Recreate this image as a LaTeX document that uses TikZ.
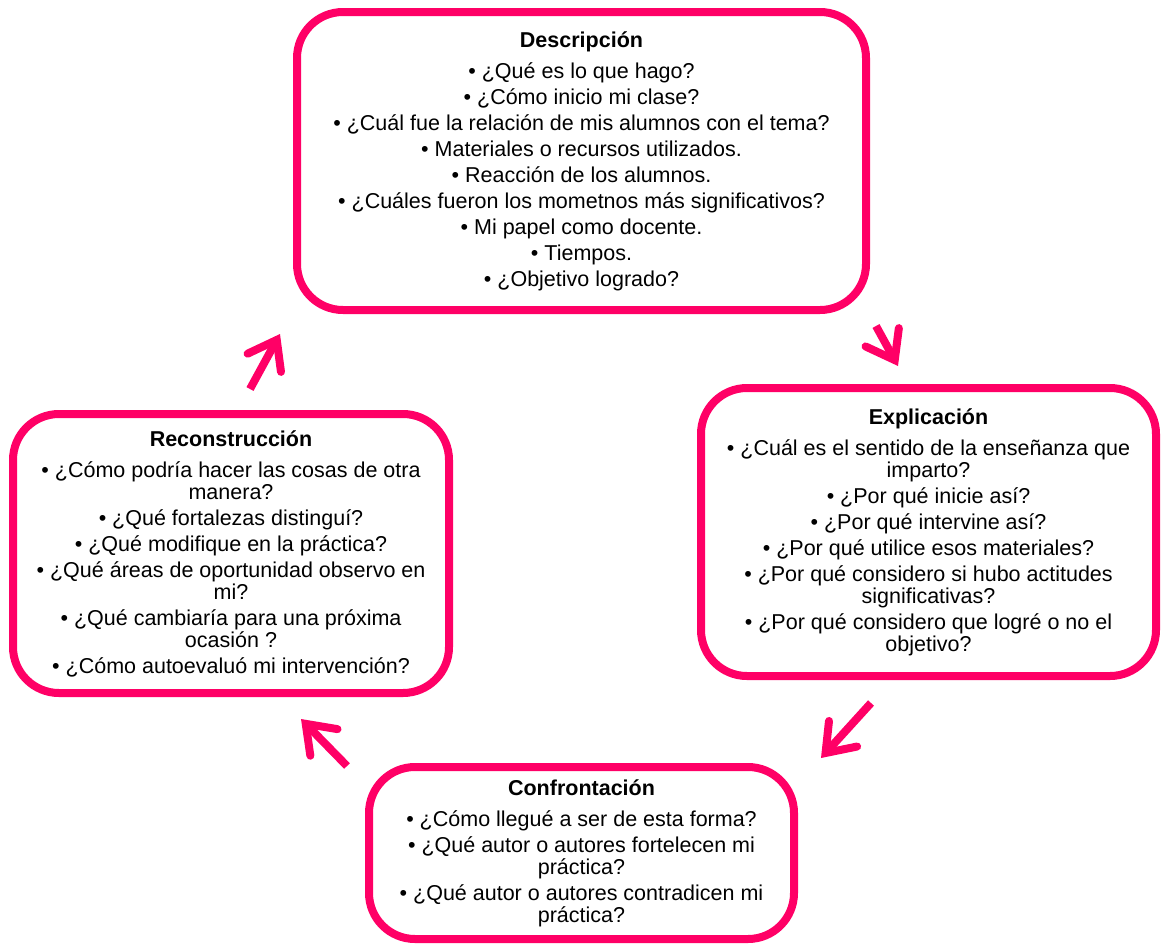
\documentclass[tikz,border=0pt]{standalone}
\usepackage{fontspec}
\setmainfont{Liberation Sans}
\usepackage{tikz}
\usetikzlibrary{arrows.meta}

\definecolor{cyclepink}{RGB}{255,0,102}

\tikzset{
  stagebox/.style={draw=cyclepink, line width=8pt, rounded corners=46pt,
    align=center, font=\fontsize{21.5}{22}\selectfont},
  cyclearrow/.style={draw=cyclepink, line width=8pt,
    -{Straight Barb[length=26pt,width=38pt,line cap=round,line join=miter]}}
}

\begin{document}
\begin{tikzpicture}[x=1pt, y=-1pt]
  \useasboundingbox (0,0) rectangle (1162,945);

  % Box (Top)
  \node[stagebox, minimum width=569pt, minimum height=298pt] (descr) at (581.5,161) {%
    \textbf{Descripción}\\[9pt]
    • ¿Qué es lo que hago?\\[4pt]
    • ¿Cómo inicio mi clase?\\[4pt]
    • ¿Cuál fue la relación de mis alumnos con el tema?\\[4pt]
    • Materiales o recursos utilizados.\\[4pt]
    • Reacción de los alumnos.\\[4pt]
    • ¿Cuáles fueron los mometnos más significativos?\\[4pt]
    • Mi papel como docente.\\[4pt]
    • Tiempos.\\[4pt]
    • ¿Objetivo logrado?};

  % Box (Right)
  \node[stagebox, minimum width=455pt, minimum height=288pt] (expl) at (928.5,532) {%
    \textbf{Explicación}\\[9pt]
    • ¿Cuál es el sentido de la enseñanza que\\ imparto?\\[4pt]
    • ¿Por qué inicie así?\\[4pt]
    • ¿Por qué intervine así?\\[4pt]
    • ¿Por qué utilice esos materiales?\\[4pt]
    • ¿Por qué considero si hubo actitudes\\ significativas?\\[4pt]
    • ¿Por qué considero que logré o no el\\ objetivo?};

  % Box (Bottom)
  \node[stagebox, minimum width=425pt, minimum height=172pt] (confr) at (581.5,853) {%
    \textbf{Confrontación}\\[9pt]
    • ¿Cómo llegué a ser de esta forma?\\[4pt]
    • ¿Qué autor o autores fortelecen mi\\ práctica?\\[4pt]
    • ¿Qué autor o autores contradicen mi\\ práctica?};

  % Box (Left)
  \node[stagebox, minimum width=436pt, minimum height=279pt] (recon) at (231,553.5) {%
    \textbf{Reconstrucción}\\[9pt]
    • ¿Cómo podría hacer las cosas de otra\\ manera?\\[4pt]
    • ¿Qué fortalezas distinguí?\\[4pt]
    • ¿Qué modifique en la práctica?\\[4pt]
    • ¿Qué áreas de oportunidad observo en\\ mi?\\[4pt]
    • ¿Qué cambiaría para una próxima\\ ocasión ?\\[4pt]
    • ¿Cómo autoevaluó mi intervención?};

  % Arrows
  \coordinate (recontail) at (250,389);
  \coordinate (descrhead) at (280,334);
  \coordinate (descrtail) at (876,326);
  \coordinate (explhead) at (898,366);
  \coordinate (expltail) at (871,703);
  \coordinate (confrhead) at (821,758);
  \coordinate (confrtail) at (347,766);
  \coordinate (reconhead) at (301,719);
  \draw[cyclearrow] (recontail) -- (descrhead);
  \draw[cyclearrow] (descrtail) -- (explhead);
  \draw[cyclearrow] (expltail) -- (confrhead);
  \draw[cyclearrow] (confrtail) -- (reconhead);
\end{tikzpicture}
\end{document}
